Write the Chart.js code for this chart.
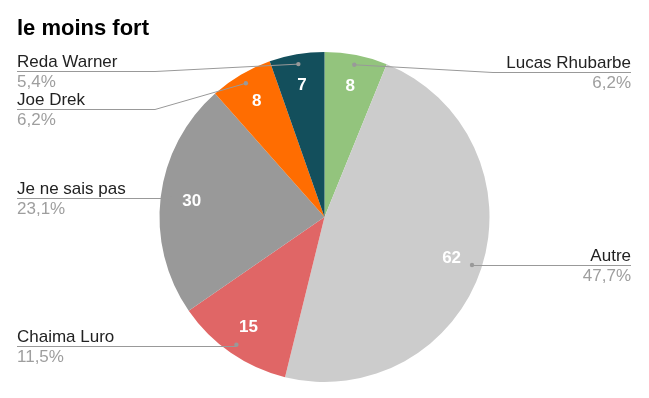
<!DOCTYPE html>
<html><head><meta charset="utf-8">
<script src="https://cdn.jsdelivr.net/npm/chart.js"></script>
<style>html,body{margin:0;padding:0;background:#fff;}canvas{display:block;}</style>
</head><body>
<canvas id="c" width="649" height="398"></canvas>
<script>
const title = 'le moins fort';
const categories = ['Lucas Rhubarbe', 'Autre', 'Chaima Luro', 'Je ne sais pas', 'Joe Drek', 'Reda Warner'];
const values = [8, 62, 15, 30, 8, 7];
const colors = ['#93c47d', '#cccccc', '#e06666', '#999999', '#ff6d01', '#134f5c'];

// layout of outside labels: side, y of underline, optional bend x
const labelLayout = [
  {side: 'right', y: 72, bend: 493},
  {side: 'right', y: 265},
  {side: 'left', y: 346},
  {side: 'left', y: 198},
  {side: 'left', y: 109, bend: 155},
  {side: 'left', y: 71, bend: 155}
];

const FONT = '"Liberation Sans", Arial, sans-serif';
const total = values.reduce((a, b) => a + b, 0);
const pct = v => (Math.round(v / total * 1000) / 10).toFixed(1).replace('.', ',') + '%';

const labelsPlugin = {
  id: 'labels',
  afterDatasetsDraw(chart) {
    const ctx = chart.ctx;
    const meta = chart.getDatasetMeta(0);
    ctx.save();
    // title
    ctx.fillStyle = '#000';
    ctx.font = 'bold 22px ' + FONT;
    ctx.textAlign = 'left';
    ctx.textBaseline = 'alphabetic';
    ctx.fillText(title, 17, 35);
    meta.data.forEach((arc, i) => {
      const p = arc.getProps(['x', 'y', 'startAngle', 'endAngle', 'outerRadius'], true);
      const mid = (p.startAngle + p.endAngle) / 2;
      // value inside
      const vr = p.outerRadius * 0.81;
      ctx.fillStyle = '#fff';
      ctx.font = 'bold 17px ' + FONT;
      ctx.textAlign = 'center';
      ctx.textBaseline = 'middle';
      ctx.fillText(String(values[i]), p.x + Math.cos(mid) * vr, p.y + Math.sin(mid) * vr);
      // leader
      const lr = p.outerRadius * 0.94;
      const dx = p.x + Math.cos(mid) * lr, dy = p.y + Math.sin(mid) * lr;
      const L = labelLayout[i];
      const endX = L.side === 'left' ? 17 : 631;
      ctx.strokeStyle = '#999';
      ctx.lineWidth = 1;
      ctx.beginPath();
      ctx.moveTo(dx, dy);
      if (L.bend !== undefined) ctx.lineTo(L.bend, L.y + 0.5);
      else ctx.lineTo(dx, L.y + 0.5);
      ctx.lineTo(endX, L.y + 0.5);
      ctx.stroke();
      ctx.fillStyle = '#999';
      ctx.beginPath();
      ctx.arc(dx, dy, 2.2, 0, Math.PI * 2);
      ctx.fill();
      // texts
      ctx.textAlign = L.side === 'left' ? 'left' : 'right';
      ctx.textBaseline = 'alphabetic';
      ctx.font = '17px ' + FONT;
      ctx.fillStyle = '#222';
      ctx.fillText(categories[i], endX, L.y - 4.5);
      ctx.fillStyle = '#9e9e9e';
      ctx.fillText(pct(values[i]), endX, L.y + 16);
    });
    ctx.restore();
  }
};

new Chart(document.getElementById('c'), {
  type: 'pie',
  data: {
    labels: categories,
    datasets: [{data: values, backgroundColor: colors, borderWidth: 0}]
  },
  options: {
    responsive: false,
    animation: false,
    layout: {padding: {top: 52, bottom: 16, left: 0, right: 0}},
    plugins: {legend: {display: false}, tooltip: {enabled: false}, title: {display: false}}
  },
  plugins: [labelsPlugin]
});
</script>
</body></html>
